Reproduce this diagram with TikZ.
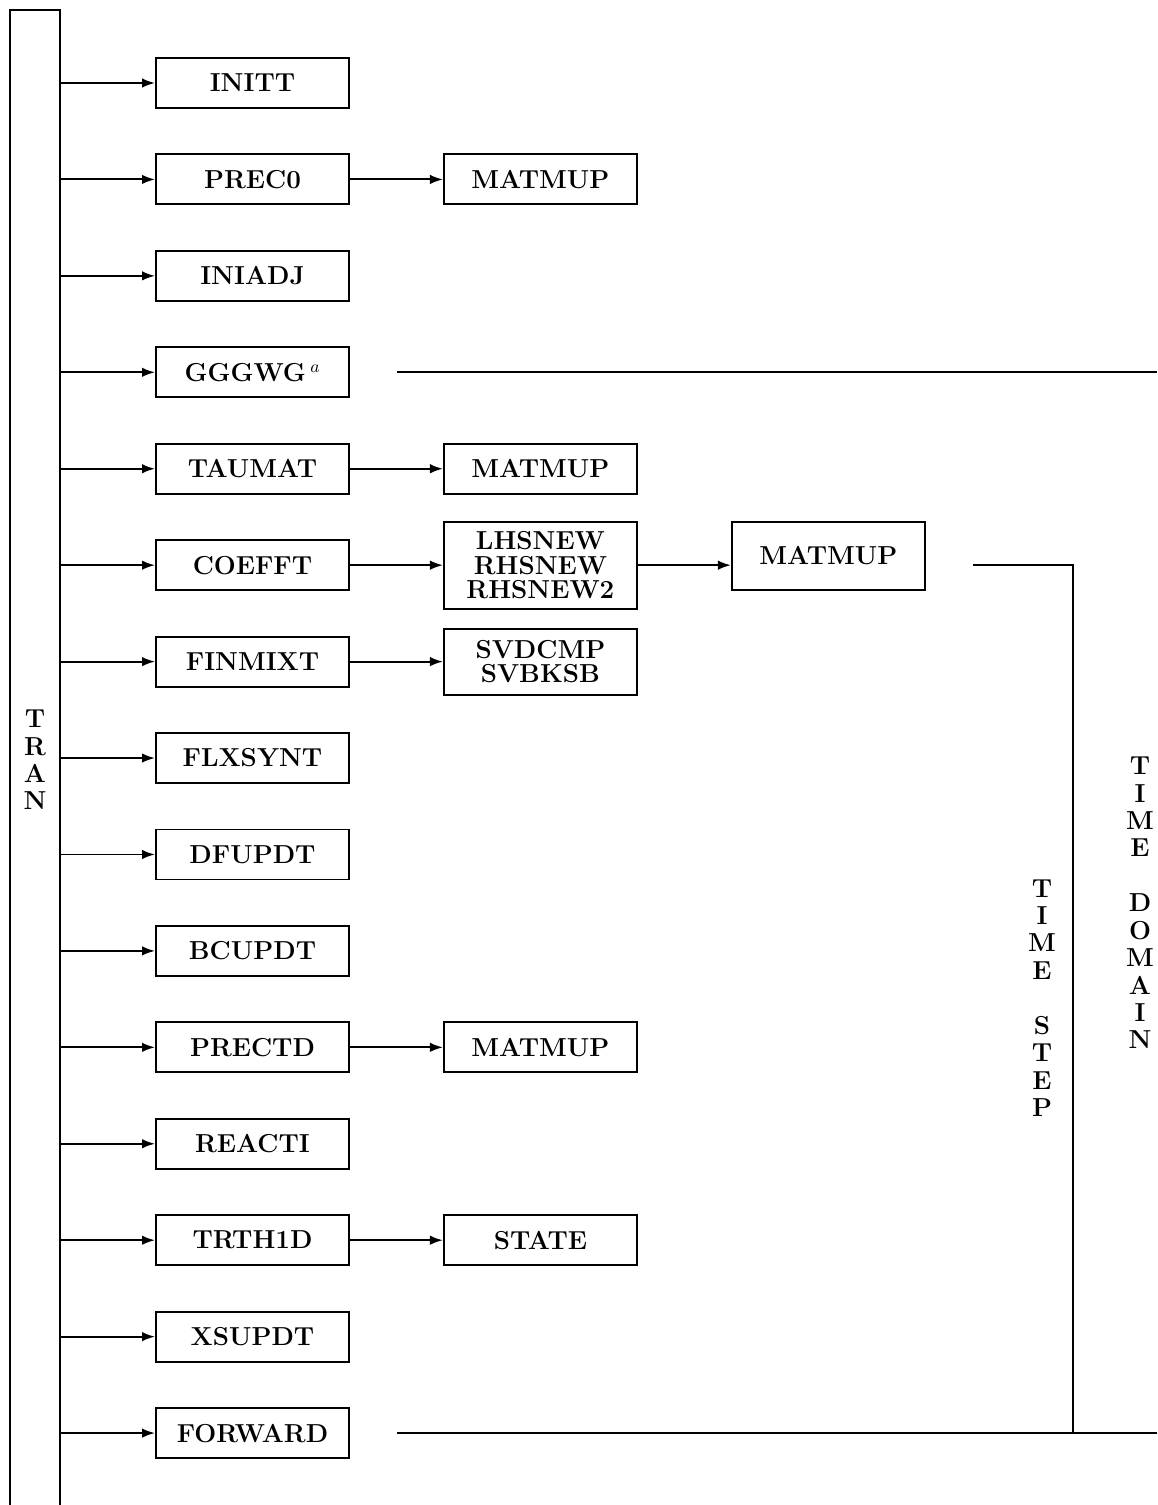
\documentclass[tikz,border=0pt]{standalone}
\usepackage{amsmath}
\usepackage{tikz}
\usetikzlibrary{positioning,arrows.meta,calc}

\tikzset{
    routine/.style={
        draw,
        rectangle,
        line width=1.1pt,
        minimum width=3.86cm,
        minimum height=1.0cm,
        inner sep=2pt
    },
    call/.style={-{Latex[length=2.6mm,width=1.9mm]}, line width=1.1pt}
}

\begin{document}
\begin{tikzpicture}[
    node distance=0.89cm,
    font=\fontsize{14.8}{15.6}\selectfont\bfseries,
    every node/.style={align=center},
    line width=1.1pt
]
\useasboundingbox (0,0) rectangle (23.14,-30.1);

% Driver column
\draw (0.2,-30.5) |- (1.2,-0.2) -- (1.2,-30.5);
\coordinate (trunk) at (1.2,0);
\coordinate (rim) at (23.14,0);
\node (tran) at (0.7,-15.2) {T\\R\\A\\N};

% Nodes
\node[routine] (initt) at (5.05,-1.66) {INITT};
\node[routine, below=of initt] (preco) {PREC0};
\node[routine, below=of preco] (iniadj) {INIADJ};
\node[routine, below=of iniadj] (gggwg) {GGGWG\,$^{a}$};
\node[routine, below=of gggwg] (taumat) {TAUMAT};
\node[routine, below=of taumat] (coefft) {COEFFT};
\node[routine, below=of coefft] (finmixt) {FINMIXT};
\node[routine, below=of finmixt] (flxsynt) {FLXSYNT};
\node[routine, below=of flxsynt] (dfupdt) {DFUPDT};
\node[routine, below=of dfupdt] (bcupdt) {BCUPDT};
\node[routine, below=of bcupdt] (prectd) {PRECTD};
\node[routine, below=of prectd] (reacti) {REACTI};
\node[routine, below=of reacti] (trthid) {TRTH1D};
\node[routine, below=of trthid] (xsupdt) {XSUPDT};
\node[routine, below=of xsupdt] (forward) {FORWARD};

\node[routine, right=1.86cm of preco] (matmupA) {MATMUP};
\node[routine, right=1.86cm of taumat] (matmupB) {MATMUP};
\node[routine, minimum height=1.74cm, right=1.86cm of coefft,
      font=\fontsize{14.8}{13.8}\selectfont\bfseries] (rhs) {LHSNEW\\RHSNEW\\RHSNEW2};
\node[routine, minimum height=1.32cm, right=1.86cm of finmixt,
      font=\fontsize{14.8}{13.8}\selectfont\bfseries] (svd) {SVDCMP\\SVBKSB};
\node[routine, minimum height=1.36cm, right=1.86cm of rhs, yshift=0.19cm] (matmupC) {MATMUP};
\node[routine, right=1.86cm of prectd] (matmupD) {MATMUP};
\node[routine, right=1.86cm of trthid] (state) {STATE};

% Calls from TRAN
\foreach \n in {initt,preco,iniadj,gggwg,taumat,coefft,finmixt,flxsynt,
                dfupdt,bcupdt,prectd,reacti,trthid,xsupdt,forward}
    \draw[call] (\n.west -| trunk) -- (\n.west);

% Second level calls
\draw[call] (preco) -- (matmupA);
\draw[call] (taumat) -- (matmupB);
\draw[call] (coefft) -- (rhs);
\draw[call] (finmixt) -- (svd);
\draw[call] (rhs.east) -- (rhs.east -| matmupC.west);
\draw[call] (prectd) -- (matmupD);
\draw[call] (trthid) -- (state);

% Loop brackets
\coordinate (domTop) at ($(gggwg.east)+(0.94,0)$);
\coordinate (domBot) at ($(forward.east)+(0.94,0)$);
\draw (domTop) -- (domTop -| rim);
\draw (domBot) -- (domBot -| rim);

\coordinate (stepTop) at ($(matmupC.east |- coefft.east)+(0.94,0)$);
\coordinate (stepX) at (21.46,0);
\draw (stepTop) -| (stepX |- domBot);

\node (timestep) at (20.84,-19.96) {T\\I\\M\\E\\[15.6pt]S\\T\\E\\P};
\node (timedomain) at (22.8,-18.06) {T\\I\\M\\E\\[15.6pt]D\\O\\M\\A\\I\\N};

\end{tikzpicture}
\end{document}
